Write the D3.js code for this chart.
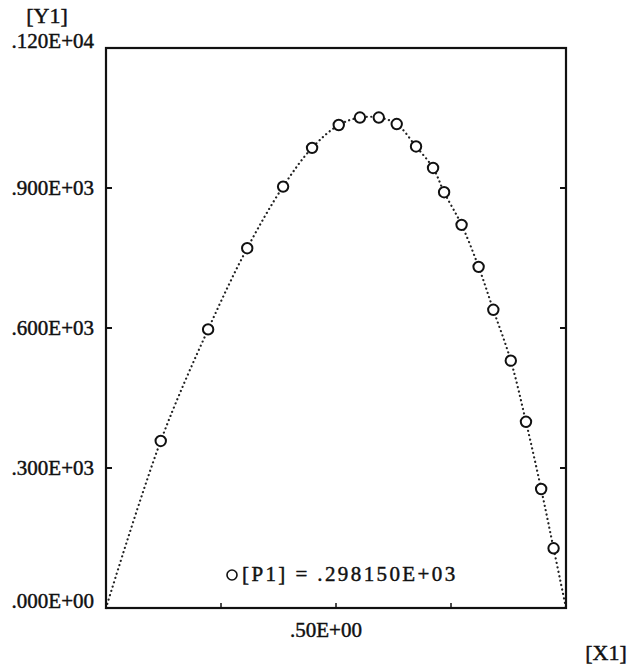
<!DOCTYPE html>
<html lang="en">
  <head>
    <meta charset="UTF-8" />
    <title>Y1 vs X1</title>
    <style>
      body { margin: 0; background: #fff; }
      text { font-family: "Liberation Serif", "DejaVu Serif", serif; fill: #111; stroke: #111; stroke-width: 0.45px; }
    </style>
  </head>
  <body>
    <script src="https://cdn.jsdelivr.net/npm/d3@7/dist/d3.min.js"></script>
    <script>
    // measured points (X1, Y1)
    var xVals = [0.119, 0.222, 0.307, 0.385, 0.448, 0.506, 0.552, 0.593, 0.632, 0.674,
                 0.711, 0.735, 0.773, 0.810, 0.842, 0.880, 0.913, 0.946, 0.973];
    var yVals = [358, 597, 771, 903, 986, 1035, 1051, 1051, 1037, 989,
                 943, 891, 821, 731, 639, 530, 399, 255, 128];
    // fitted curve ends on the axis at both sides
    var curveStart = [0, 0];
    var curveEnd = [1, 0];

    var yTicks = [0, 300, 600, 900, 1200];
    var yTickLabels = [".000E+00", ".300E+03", ".600E+03", ".900E+03", ".120E+04"];
    var xTicks = [0.25, 0.5, 0.75];
    var xLabelTicks = [0.5];
    var xTickLabels = [".50E+00"];
    var legendText = "[P1] = .298150E+03";

    var width = 635, height = 672;
    var margin = { top: 48, right: 70, bottom: 64, left: 106 };

    var svg = d3.select("body").append("svg")
      .attr("width", width)
      .attr("height", height);

    var xScale = d3.scaleLinear().domain([0, 1])
      .range([margin.left, width - margin.right + 1]);
    var yScale = d3.scaleLinear().domain([0, 1200])
      .range([height - margin.bottom, margin.top]);

    var pts = xVals.map(function(x, i) { return [x, yVals[i]]; });
    var curvePts = [curveStart].concat(pts).concat([curveEnd]);

    // dotted fitted curve
    var line = d3.line()
      .x(function(d) { return xScale(d[0]); })
      .y(function(d) { return yScale(d[1]); })
      .curve(d3.curveCatmullRom.alpha(0.5));

    svg.append("path")
      .datum(curvePts)
      .attr("d", line)
      .attr("fill", "none")
      .attr("stroke", "#222")
      .attr("stroke-width", 2.2)
      .attr("stroke-linecap", "round")
      .attr("stroke-dasharray", "0.1,4.4");

    // frame
    svg.append("rect")
      .attr("x", xScale(0))
      .attr("y", yScale(1200))
      .attr("width", xScale(1) - xScale(0))
      .attr("height", yScale(0) - yScale(1200))
      .attr("fill", "none")
      .attr("stroke", "#111")
      .attr("stroke-width", 2.2);

    // inward ticks, left and right
    var innerY = yTicks.filter(function(d) { return d > 0 && d < 1200; });
    svg.selectAll(".ytickL").data(innerY).enter().append("line")
      .attr("x1", xScale(0)).attr("x2", xScale(0) + 6)
      .attr("y1", function(d) { return yScale(d); })
      .attr("y2", function(d) { return yScale(d); })
      .attr("stroke", "#111").attr("stroke-width", 2);
    svg.selectAll(".ytickR").data(innerY).enter().append("line")
      .attr("x1", xScale(1)).attr("x2", xScale(1) - 6)
      .attr("y1", function(d) { return yScale(d); })
      .attr("y2", function(d) { return yScale(d); })
      .attr("stroke", "#111").attr("stroke-width", 2);
    svg.selectAll(".xtick").data(xTicks).enter().append("line")
      .attr("x1", function(d) { return xScale(d); })
      .attr("x2", function(d) { return xScale(d); })
      .attr("y1", yScale(0)).attr("y2", yScale(0) - 5)
      .attr("stroke", "#111").attr("stroke-width", 1.5);

    // y labels
    svg.selectAll(".ylab").data(yTicks).enter().append("text")
      .attr("x", 94)
      .attr("y", function(d) { return yScale(d); })
      .attr("dy", function(d) { return (d == 0 || d == 1200) ? 0 : 7; })
      .attr("text-anchor", "end")
      .style("font-size", "21px")
      .text(function(d, i) { return yTickLabels[i]; });

    svg.selectAll(".xlab").data(xLabelTicks).enter().append("text")
      .attr("x", function(d) { return xScale(d) - 10; })
      .attr("y", yScale(0) + 29)
      .attr("text-anchor", "middle")
      .style("font-size", "21px")
      .text(function(d, i) { return xTickLabels[i]; });

    svg.append("text")
      .attr("x", 47).attr("y", 23)
      .attr("text-anchor", "middle")
      .style("font-size", "22px")
      .text("[Y1]");

    svg.append("text")
      .attr("x", 606).attr("y", 660)
      .attr("text-anchor", "middle")
      .style("font-size", "22px")
      .text("[X1]");

    // data markers
    svg.selectAll(".pt").data(pts).enter().append("circle")
      .attr("cx", function(d) { return xScale(d[0]); })
      .attr("cy", function(d) { return yScale(d[1]); })
      .attr("r", 5.2)
      .attr("fill", "#fff")
      .attr("stroke", "#111")
      .attr("stroke-width", 2);

    // legend
    svg.append("circle")
      .attr("cx", 232).attr("cy", 575).attr("r", 5)
      .attr("fill", "#fff").attr("stroke", "#111").attr("stroke-width", 1.6);
    svg.append("text")
      .attr("x", 242).attr("y", 581)
      .style("font-size", "21px")
      .style("letter-spacing", "2.4px")
      .text(legendText);
    </script>
  </body>
</html>
